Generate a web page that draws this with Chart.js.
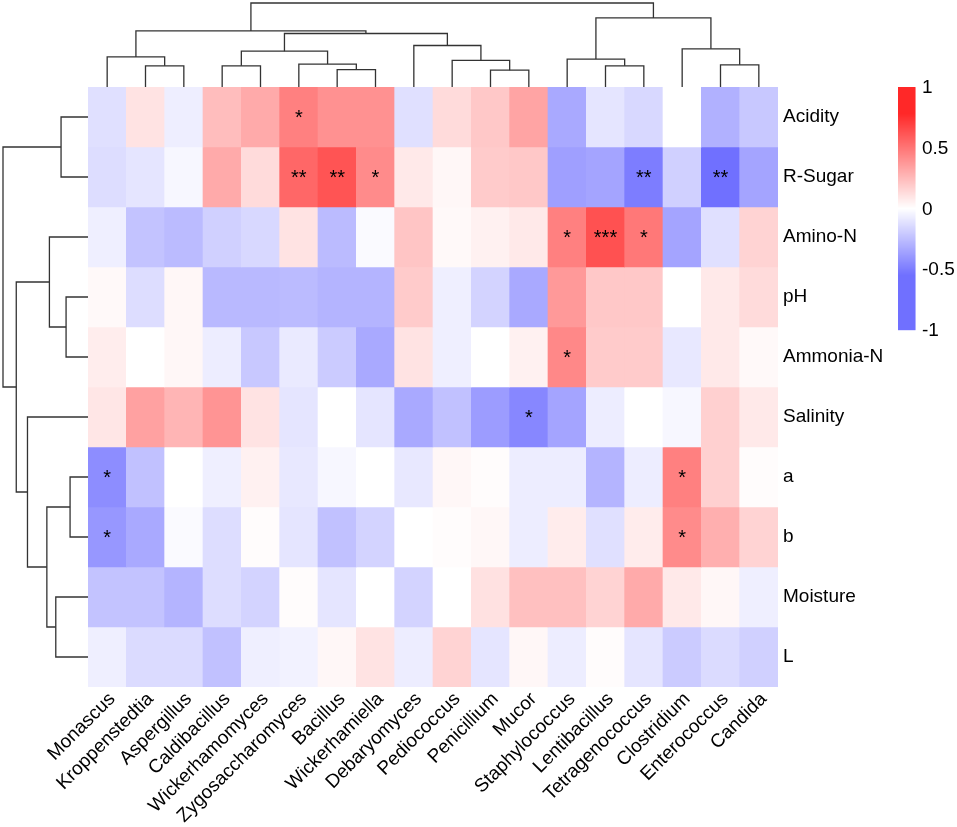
<!DOCTYPE html>
<html>
<head>
<meta charset="utf-8">
<script src="https://cdn.jsdelivr.net/npm/chart.js@4/dist/chart.umd.min.js"></script>
<style>
  html, body { margin: 0; padding: 0; background: #fff; }
  canvas { display: block; }
</style>
</head>
<body>
<canvas id="heat" width="957" height="827"></canvas>
<script>
// columns (genera) and rows (physicochemical traits), in clustered order
const genera = ['Monascus', 'Kroppenstedtia', 'Aspergillus', 'Caldibacillus', 'Wickerhamomyces',
  'Zygosaccharomyces', 'Bacillus', 'Wickerhamiella', 'Debaryomyces', 'Pediococcus', 'Penicillium',
  'Mucor', 'Staphylococcus', 'Lentibacillus', 'Tetragenococcus', 'Clostridium', 'Enterococcus', 'Candida'];
const traits = ['Acidity', 'R-Sugar', 'Amino-N', 'pH', 'Ammonia-N', 'Salinity', 'a', 'b', 'Moisture', 'L'];

// correlation coefficients, one array per trait (same order as genera)
const acidity  = [-0.12, 0.10, -0.065, 0.24, 0.31, 0.46, 0.40, 0.40, -0.12, 0.13, 0.20, 0.33, -0.33, -0.10, -0.15, 0.00, -0.30, -0.21];
const rSugar   = [-0.13, -0.10, -0.03, 0.31, 0.13, 0.55, 0.62, 0.42, 0.08, 0.03, 0.19, 0.20, -0.37, -0.35, -0.50, -0.18, -0.55, -0.35];
const aminoN   = [-0.06, -0.23, -0.26, -0.18, -0.15, 0.10, -0.26, -0.02, 0.21, 0.02, 0.05, 0.08, 0.46, 0.63, 0.49, -0.35, -0.12, 0.16];
const pH       = [0.02, -0.13, 0.03, -0.27, -0.27, -0.26, -0.29, -0.29, 0.19, -0.06, -0.17, -0.33, 0.37, 0.20, 0.20, 0.00, 0.08, 0.13];
const ammoniaN = [0.065, 0.00, 0.03, -0.07, -0.21, -0.08, -0.20, -0.33, 0.10, -0.06, 0.00, 0.05, 0.43, 0.19, 0.19, -0.09, 0.08, 0.02];
const salinity = [0.09, 0.34, 0.27, 0.39, 0.10, -0.10, 0.00, -0.10, -0.33, -0.24, -0.38, -0.46, -0.35, -0.07, 0.00, -0.03, 0.17, 0.08];
const colorA   = [-0.44, -0.24, 0.00, -0.06, 0.05, -0.09, -0.03, 0.00, -0.09, 0.03, 0.01, -0.07, -0.07, -0.29, -0.07, 0.46, 0.17, 0.01];
const colorB   = [-0.40, -0.33, -0.02, -0.13, 0.01, -0.10, -0.24, -0.17, 0.00, 0.01, 0.03, -0.07, 0.07, -0.12, 0.07, 0.42, 0.29, 0.16];
const moisture = [-0.23, -0.23, -0.29, -0.13, -0.17, 0.01, -0.10, 0.00, -0.17, 0.00, 0.11, 0.23, 0.23, 0.16, 0.31, 0.08, 0.03, -0.06];
const lightness = [-0.06, -0.14, -0.14, -0.24, -0.06, -0.05, 0.03, 0.10, -0.07, 0.16, -0.10, 0.03, -0.07, 0.01, -0.10, -0.20, -0.14, -0.18];
const matrix = [acidity, rSugar, aminoN, pH, ammoniaN, salinity, colorA, colorB, moisture, lightness];

// significance marks: [trait, genus, stars]
const stars = [
  ['Acidity', 'Zygosaccharomyces', '*'],
  ['R-Sugar', 'Zygosaccharomyces', '**'], ['R-Sugar', 'Bacillus', '**'], ['R-Sugar', 'Wickerhamiella', '*'],
  ['R-Sugar', 'Tetragenococcus', '**'], ['R-Sugar', 'Enterococcus', '**'],
  ['Amino-N', 'Staphylococcus', '*'], ['Amino-N', 'Lentibacillus', '***'], ['Amino-N', 'Tetragenococcus', '*'],
  ['Ammonia-N', 'Staphylococcus', '*'],
  ['Salinity', 'Mucor', '*'],
  ['a', 'Monascus', '*'], ['a', 'Clostridium', '*'],
  ['b', 'Monascus', '*'], ['b', 'Clostridium', '*']
];

// hierarchical clustering (hclust style: negative = leaf, positive = earlier merge), relative heights
const colMerges = [[-11, -12], [-7, -8], [-2, -3], [-4, -5], [-14, -15], [-17, -18], [-6, 2], [-10, 1],
  [-13, 5], [-1, 3], [4, 7], [-16, 6], [-9, 8], [11, 13], [10, 14], [9, 12], [15, 16]];
const colHeights = [0.20, 0.206, 0.252, 0.252, 0.252, 0.264, 0.273, 0.317, 0.332, 0.358, 0.427, 0.454,
  0.494, 0.637, 0.668, 0.822, 1.0];
const rowMerges = [[-7, -8], [-4, -5], [-1, -2], [-9, -10], [-3, 2], [1, 4], [-6, 6], [5, 7], [3, 8]];
const rowHeights = [0.211, 0.258, 0.317, 0.379, 0.454, 0.484, 0.712, 0.844, 1.0];

const legendTicks = [1, 0.5, 0, -0.5, -1];

const FONT = "'Liberation Sans', Arial, Helvetica, sans-serif";
const BLUE = [112, 112, 255];
const RED = [255, 40, 40];

function cellColor(v) {
  let end, t;
  if (v >= 0) { end = RED; t = Math.min(v / 0.78, 1); }
  else { end = BLUE; t = Math.min(-v / 0.55, 1); }
  const c = end.map(e => Math.round(255 + (e - 255) * t));
  return `rgb(${c[0]}, ${c[1]}, ${c[2]})`;
}

function drawTree(ctx, merges, heights, leafPos, toPixel, alongX) {
  const nodes = [];
  const get = id => id < 0 ? { p: leafPos(-id - 1), h: 0 } : nodes[id - 1];
  merges.forEach(([a, b], k) => {
    const A = get(a), B = get(b), h = heights[k];
    ctx.beginPath();
    if (alongX) {
      ctx.moveTo(A.p, toPixel(A.h)); ctx.lineTo(A.p, toPixel(h));
      ctx.lineTo(B.p, toPixel(h)); ctx.lineTo(B.p, toPixel(B.h));
    } else {
      ctx.moveTo(toPixel(A.h), A.p); ctx.lineTo(toPixel(h), A.p);
      ctx.lineTo(toPixel(h), B.p); ctx.lineTo(toPixel(B.h), B.p);
    }
    ctx.stroke();
    nodes.push({ p: (A.p + B.p) / 2, h: h });
  });
}

const extras = {
  id: 'extras',
  afterDatasetsDraw(chart) {
    const { ctx, chartArea: area, scales: { x, y } } = chart;
    ctx.save();
    // significance stars
    ctx.fillStyle = '#000';
    ctx.font = `20px ${FONT}`;
    ctx.textAlign = 'center';
    ctx.textBaseline = 'middle';
    stars.forEach(([trait, genus, s]) => {
      const r = traits.indexOf(trait), c = genera.indexOf(genus);
      ctx.fillText(s, x.getPixelForValue(c), y.getPixelForValue(r + 0.5) + 1);
    });

    // dendrograms
    ctx.strokeStyle = '#333';
    ctx.lineWidth = 1.3;
    drawTree(ctx, colMerges, colHeights, i => x.getPixelForValue(i),
      h => area.top - h * (area.top - 3), true);
    drawTree(ctx, rowMerges, rowHeights, i => y.getPixelForValue(i + 0.5),
      h => area.left - h * (area.left - 3), false);

    // colour key
    const kx = area.right + 120, kw = 17.5, ky = area.top, kh = 243;
    const keyY = v => ky + (1 - v) / 2 * kh;
    for (let py = 0; py < kh; py++) {
      ctx.fillStyle = cellColor(1 - 2 * (py + 0.5) / kh);
      ctx.fillRect(kx, ky + py, kw, 1.2);
    }
    ctx.font = `19px ${FONT}`;
    ctx.fillStyle = '#000';
    ctx.textAlign = 'left';
    legendTicks.forEach(v => ctx.fillText(String(v), kx + 24, keyY(v) + 1));
    ctx.restore();
  }
};

const datasets = traits.map((trait, r) => ({
  label: trait,
  data: genera.map(() => [r, r + 1]),
  backgroundColor: matrix[r].map(cellColor),
  borderWidth: 0,
  barPercentage: 1,
  categoryPercentage: 1
}));

new Chart(document.getElementById('heat'), {
  type: 'bar',
  data: { labels: genera, datasets: datasets },
  options: {
    responsive: false,
    animation: false,
    devicePixelRatio: 1,
    layout: { padding: { left: 88, top: 87, right: 59, bottom: 0 } },
    plugins: { legend: { display: false }, tooltip: { enabled: false } },
    scales: {
      x: {
        stacked: true,
        grid: { display: false, drawTicks: false },
        border: { display: false },
        ticks: {
          autoSkip: false, minRotation: 45, maxRotation: 45, padding: 1, labelOffset: 5,
          color: '#000', font: { family: FONT, size: 19 }
        },
        afterFit: s => { s.height = 140; }
      },
      y: {
        position: 'right',
        reverse: true,
        stacked: false,
        min: 0, max: traits.length,
        grid: { display: false, drawTicks: false },
        border: { display: false },
        afterBuildTicks: s => { s.ticks = traits.map((t, i) => ({ value: i + 0.5 })); },
        ticks: {
          padding: 5, color: '#000', font: { family: FONT, size: 19 },
          callback: v => traits[Math.floor(v)]
        },
        afterFit: s => { s.width = 120; }
      }
    }
  },
  plugins: [extras]
});
</script>
</body>
</html>
